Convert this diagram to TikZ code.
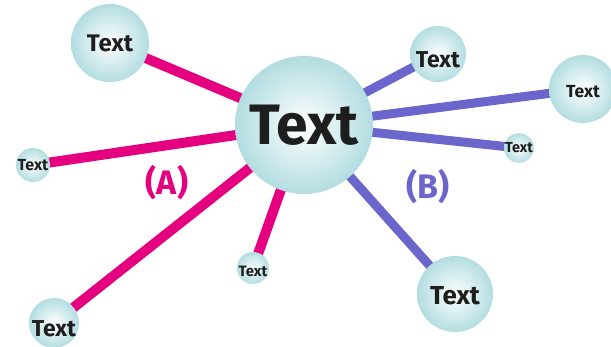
\documentclass[tikz,border=0pt]{standalone}
\usepackage{fontspec}
\setmainfont{Fira Sans}
\usepackage{tikz}
\usetikzlibrary{shapes,arrows,positioning}

\definecolor{spokeA}{HTML}{E4007F}
\definecolor{spokeB}{HTML}{6B66CC}
\definecolor{bubble}{HTML}{B3DDE1}
\definecolor{ink}{HTML}{1E1E1E}

\pgfdeclarelayer{bg}
\pgfsetlayers{bg,main}

\tikzset{
	bub/.style={circle, inner sep=0pt, minimum size=#1, shade, inner color=white, outer color=bubble, text=ink, font=\bfseries},
	legA/.style={line width=10pt, draw=spokeA},
	legB/.style={line width=9pt, draw=spokeB},
}
\newcommand{\fsz}[1]{\fontsize{#1}{#1}\selectfont}
\newcommand{\sink}[2]{\raisebox{-#1}[\height][\depth]{#2}}

\begin{document}
\begin{tikzpicture}[x=1pt, y=-1pt]
	\useasboundingbox (0,0) rectangle (611,347);
	% hub and satellites
	\node [bub=138pt] (hub) at (304,125) {\fsz{57}Text};
	\node [bub=78pt] (tl) at (110,43) {\fsz{24}Text};
	\node [bub=34pt] (lf) at (33,165) {\fsz{16}Text};
	\node [bub=50pt] (bl) at (54,323) {\sink{6pt}{\fsz{23}Text}};
	\node [bub=32pt] (bt) at (253,268) {\sink{3pt}{\fsz{15}Text}};
	\node [bub=56pt] (tr) at (438,54) {\sink{6pt}{\fsz{23}Text}};
	\node [bub=68pt] (rt) at (583,89) {\sink{3pt}{\fsz{17.5}Text}};
	\node [bub=18pt] (rs) at (519,148) {\fsz{14.5}Text};
	\node [bub=76pt] (br) at (455,294) {\sink{2pt}{\fsz{26}Text}};
	% group labels
	\node [text=spokeA, font=\bfseries\fsz{34}] (labA) at (167,183) {(A)};
	\node [text=spokeB, font=\bfseries\fsz{34}] (labB) at (428,187) {(B)};
	\begin{pgfonlayer}{bg}
		\draw [legA] (hub.center) -- (tl.center);
		\draw [legA] (hub.center) -- (lf.center);
		\draw [legA] (hub.center) -- (bl.center);
		\draw [legA] (hub.center) -- (bt.center);
		\draw [legB] (hub.center) -- (tr.center);
		\draw [legB] (hub.center) -- (rt.center);
		\draw [legB] (hub.center) -- (rs.center);
		\draw [legB] (hub.center) -- (br.center);
	\end{pgfonlayer}
\end{tikzpicture}
\end{document}
